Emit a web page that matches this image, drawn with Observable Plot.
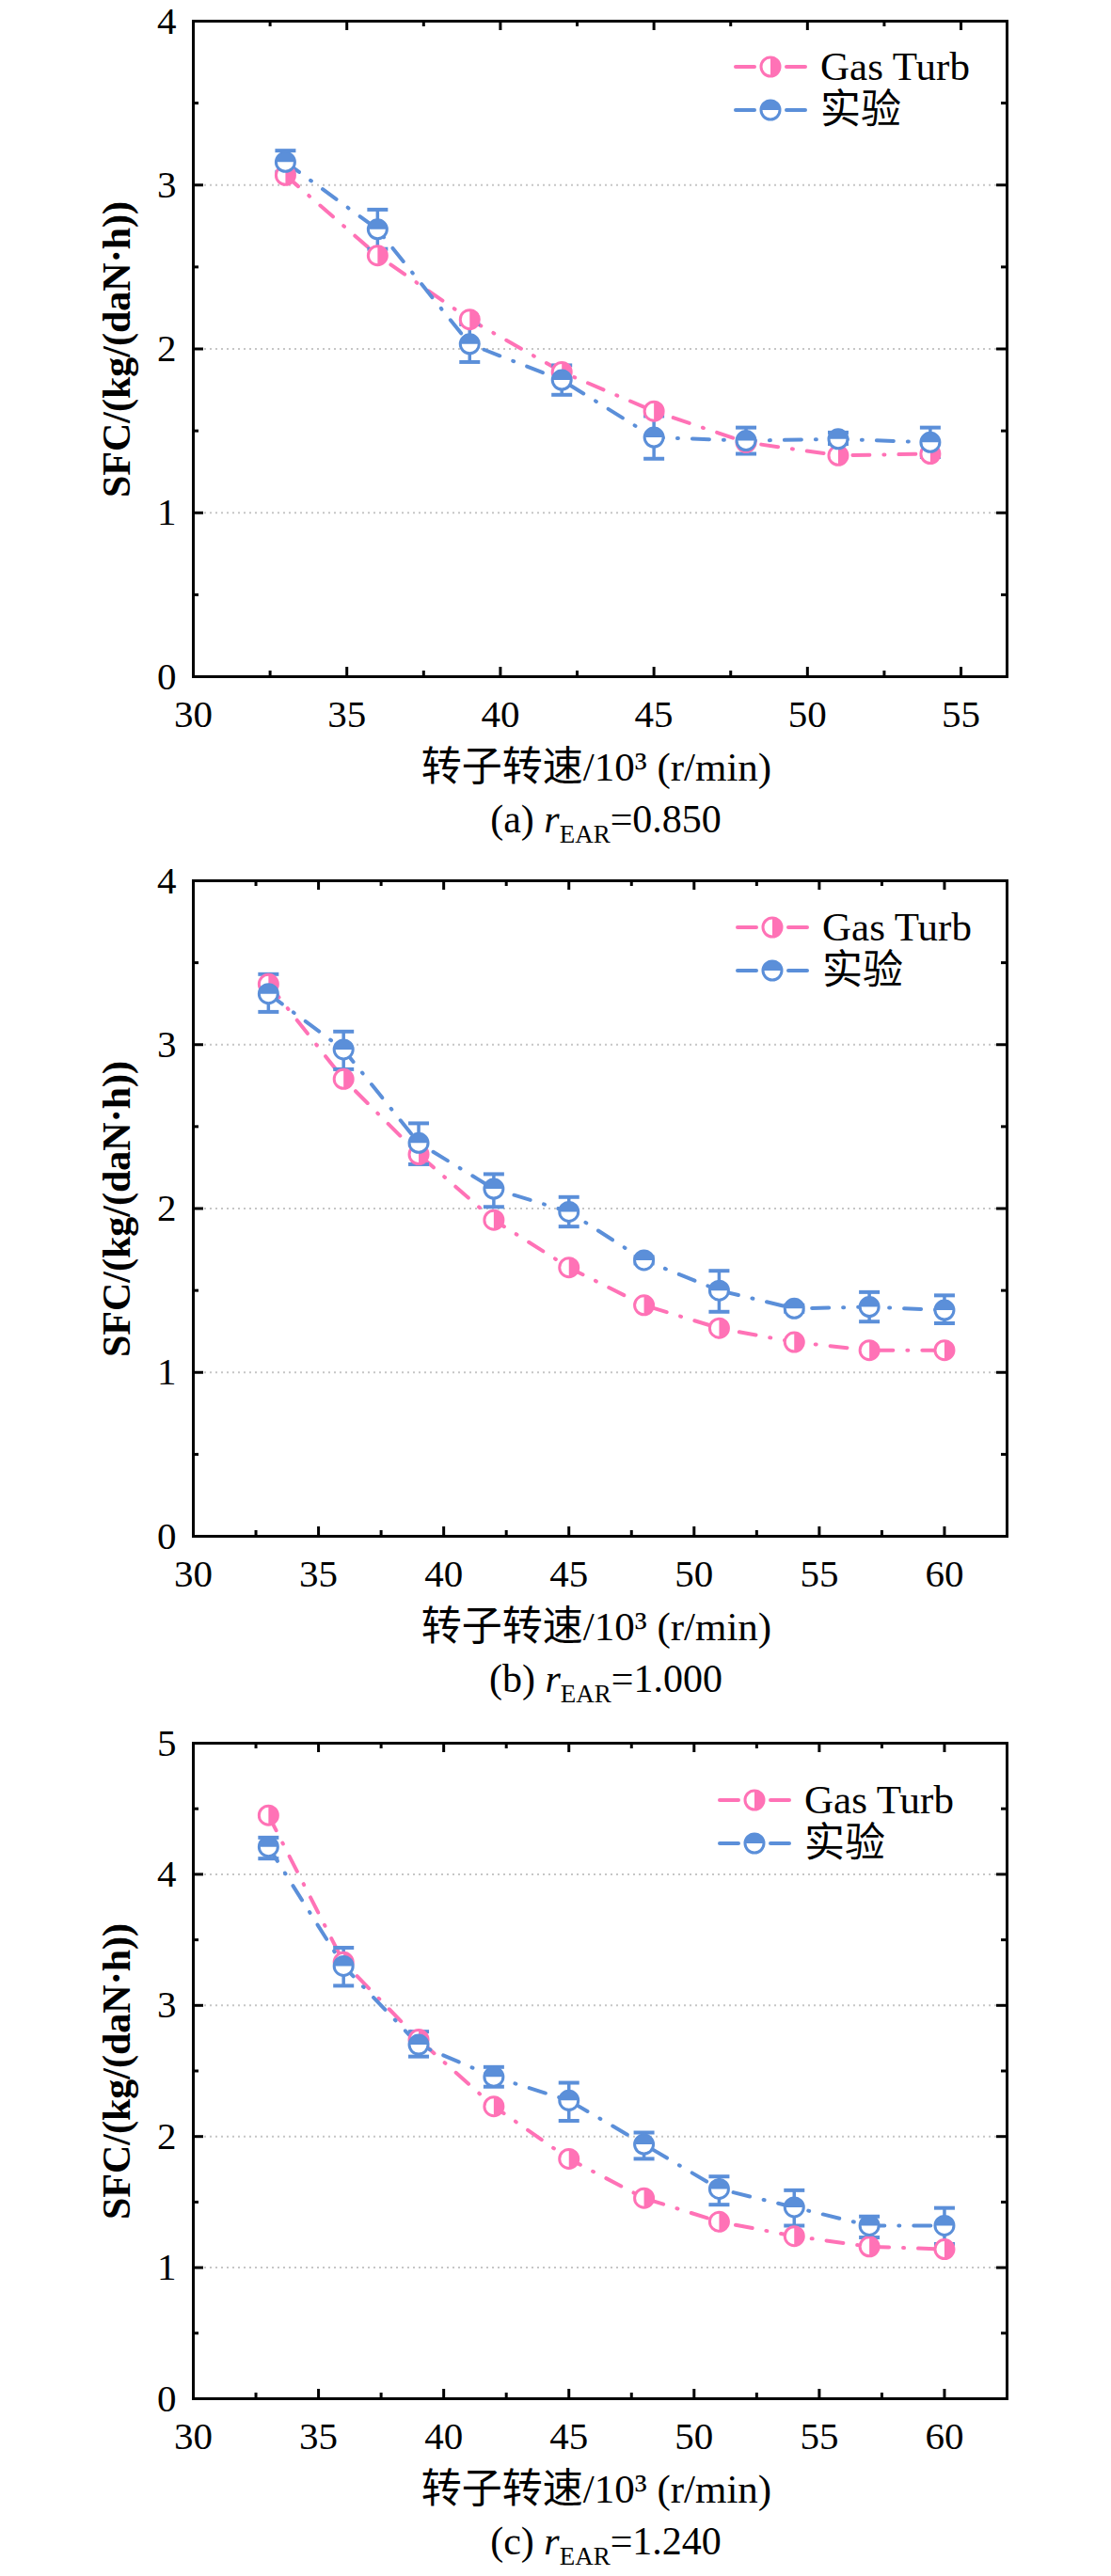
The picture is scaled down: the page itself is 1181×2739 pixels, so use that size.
<!DOCTYPE html>
<html>
<head>
<meta charset="utf-8">
<script src="https://cdn.jsdelivr.net/npm/d3@7"></script>
<script src="https://cdn.jsdelivr.net/npm/@observablehq/plot@0.6"></script>
<style>
html, body { margin: 0; padding: 0; background: #fff; }
#fig { position: relative; width: 1181px; height: 2739px; background: #fff; overflow: hidden; }
#fig > svg { position: absolute; left: 0; }
</style>
</head>
<body>
<div id="fig"></div>
<script>
// ---------------- data ----------------
const seriesNames = ["Gas Turb", "实验"];
const captionTags = ["(a)", "(b)", "(c)"];
const rEarValues = ["0.850", "1.000", "1.240"];
const yTitle = "SFC/(kg/(daN·h))";
const xTitle = "转子转速/10³ (r/min)";

const xTicksA = [30, 35, 40, 45, 50, 55];
const xTicksBC = [30, 35, 40, 45, 50, 55, 60];
const yTicksAB = [0, 1, 2, 3, 4];
const yTicksC = [0, 1, 2, 3, 4, 5];

// (a) r_EAR = 0.850
const speedA = [33, 36, 39, 42, 45, 48, 51, 54];
const gasTurbA = [3.06, 2.57, 2.18, 1.86, 1.62, 1.43, 1.35, 1.36];
const expA = [3.14, 2.73, 2.03, 1.81, 1.46, 1.44, 1.45, 1.43];
const expLowA = [3.08, 2.61, 1.92, 1.72, 1.33, 1.36, 1.42, 1.34];
const expHighA = [3.21, 2.85, 2.15, 1.90, 1.59, 1.52, 1.49, 1.52];

// (b) r_EAR = 1.000
const speedB = [33, 36, 39, 42, 45, 48, 51, 54, 57, 60];
const gasTurbB = [3.37, 2.79, 2.33, 1.93, 1.64, 1.41, 1.27, 1.185, 1.135, 1.135];
const expB = [3.31, 2.97, 2.40, 2.12, 1.98, 1.685, 1.50, 1.39, 1.40, 1.38];
const expLowB = [3.20, 2.85, 2.27, 2.01, 1.89, 1.665, 1.37, 1.37, 1.31, 1.30];
const expHighB = [3.43, 3.08, 2.52, 2.21, 2.07, 1.705, 1.62, 1.41, 1.49, 1.47];

// (c) r_EAR = 1.240
const speedC = [33, 36, 39, 42, 45, 48, 51, 54, 57, 60];
const gasTurbC = [4.45, 3.33, 2.74, 2.23, 1.83, 1.53, 1.35, 1.24, 1.16, 1.14];
const expC = [4.21, 3.30, 2.70, 2.455, 2.275, 1.94, 1.60, 1.46, 1.32, 1.32];
const expLowC = [4.12, 3.15, 2.61, 2.38, 2.12, 1.83, 1.48, 1.32, 1.23, 1.18];
const expHighC = [4.28, 3.44, 2.80, 2.53, 2.41, 2.03, 1.695, 1.59, 1.39, 1.455];

// ---------------- styles ----------------
const PINK = "#ff72b6";
const BLUE = "#5b8fd9";
const FONT = "'Liberation Serif', 'Times New Roman', 'Noto Sans CJK SC', serif";
const PLOT_W = 865, PLOT_H = 697, ML = 205, MT = 22, MB = 62;

const panels = [
  {speed: speedA, gas: gasTurbA, exp: expA, lo: expLowA, hi: expHighA, xTicks: xTicksA, yTicks: yTicksAB, xMax: 56.5, yMax: 4, top: 22, legendX: 780, legendY: 49},
  {speed: speedB, gas: gasTurbB, exp: expB, lo: expLowB, hi: expHighB, xTicks: xTicksBC, yTicks: yTicksAB, xMax: 62.5, yMax: 4, top: 936, legendX: 782, legendY: 50},
  {speed: speedC, gas: gasTurbC, exp: expC, lo: expLowC, hi: expHighC, xTicks: xTicksBC, yTicks: yTicksC, xMax: 62.5, yMax: 5, top: 1853, legendX: 763, legendY: 61}
];

// custom symbols
const rightHalf = {draw(ctx, size) { const r = Math.sqrt(size / Math.PI); ctx.moveTo(0, -r); ctx.arc(0, 0, r, -Math.PI / 2, Math.PI / 2); ctx.closePath(); }};
const topHalf = {draw(ctx, size) { const r = Math.sqrt(size / Math.PI); ctx.moveTo(r, 0); ctx.arc(0, 0, r, 0, -Math.PI, true); ctx.closePath(); }};
const capBar = {draw(ctx, size) { const r = Math.sqrt(size / Math.PI); ctx.moveTo(-r, 0); ctx.lineTo(r, 0); }};

const fig = document.getElementById("fig");

function makePanel(p) {
  const rows = p.speed.map((s, i) => ({s, gas: p.gas[i], exp: p.exp[i], lo: p.lo[i], hi: p.hi[i]}));
  const xMinor = p.xTicks.map(t => t + 2.5).filter(t => t < p.xMax);
  const yMinor = p.yTicks.slice(0, -1).map(t => t + 0.5);
  const grid = p.yTicks.filter(t => t > 0 && t < p.yMax);
  const tk = {stroke: "black", strokeWidth: 3};
  const lineOpts = {strokeWidth: 4, strokeLinecap: "round", strokeLinejoin: "round", strokeDasharray: "18,15,1,15"};
  return Plot.plot({
    width: 1181,
    height: MT + PLOT_H + MB,
    marginTop: MT, marginBottom: MB, marginLeft: ML, marginRight: 1181 - ML - PLOT_W,
    x: {domain: [30, p.xMax]},
    y: {domain: [0, p.yMax]},
    style: {fontFamily: FONT, fontSize: "41px", color: "black", background: "transparent"},
    marks: [
      Plot.ruleY(grid, {y: d => d, stroke: "#c6c6c6", strokeWidth: 2, strokeDasharray: "2,4"}),
      Plot.tickX(p.xTicks, {x: d => d, insetTop: PLOT_H - 10, ...tk}),
      Plot.tickX(p.xTicks, {x: d => d, insetBottom: PLOT_H - 10, ...tk}),
      Plot.tickX(xMinor, {x: d => d, insetTop: PLOT_H - 6, ...tk}),
      Plot.tickX(xMinor, {x: d => d, insetBottom: PLOT_H - 6, ...tk}),
      Plot.tickY(p.yTicks, {y: d => d, insetRight: PLOT_W - 11, ...tk}),
      Plot.tickY(p.yTicks, {y: d => d, insetLeft: PLOT_W - 11, ...tk}),
      Plot.tickY(yMinor, {y: d => d, insetRight: PLOT_W - 6, ...tk}),
      Plot.tickY(yMinor, {y: d => d, insetLeft: PLOT_W - 6, ...tk}),
      Plot.axisX({ticks: p.xTicks, tickSize: 0, tickPadding: 24, fontSize: 41, label: null, tickFormat: d3.format("d")}),
      Plot.axisY({ticks: p.yTicks, tickSize: 0, tickPadding: 18, fontSize: 41, label: null, tickFormat: d3.format("d")}),
      Plot.frame({stroke: "black", strokeWidth: 3}),
      Plot.line(rows, {x: "s", y: "gas", stroke: PINK, ...lineOpts}),
      Plot.line(rows, {x: "s", y: "exp", stroke: BLUE, ...lineOpts}),
      Plot.ruleX(rows, {x: "s", y1: "lo", y2: "hi", stroke: BLUE, strokeWidth: 3.5}),
      Plot.dot(rows, {x: "s", y: "lo", symbol: capBar, r: 11, fill: "none", stroke: BLUE, strokeWidth: 4}),
      Plot.dot(rows, {x: "s", y: "hi", symbol: capBar, r: 11, fill: "none", stroke: BLUE, strokeWidth: 4}),
      Plot.dot(rows, {x: "s", y: "gas", r: 10, fill: "white", stroke: PINK, strokeWidth: 3}),
      Plot.dot(rows, {x: "s", y: "gas", r: 10, symbol: rightHalf, fill: PINK, stroke: "none"}),
      Plot.dot(rows, {x: "s", y: "exp", r: 10, fill: "white", stroke: BLUE, strokeWidth: 3}),
      Plot.dot(rows, {x: "s", y: "exp", r: 10, symbol: topHalf, fill: BLUE, stroke: "none"})
    ]
  });
}

panels.forEach(p => {
  const svg = makePanel(p);
  svg.style.position = "absolute";
  svg.style.left = "0px";
  svg.style.top = (p.top - MT) + "px";
  fig.appendChild(svg);
});

// ---------------- overlay: titles, captions, legends ----------------
const overlay = d3.select(fig).append("svg")
  .attr("width", 1181).attr("height", 2739)
  .style("position", "absolute").style("left", "0px").style("top", "0px")
  .style("pointer-events", "none")
  .attr("font-family", FONT);

panels.forEach((p, i) => {
  const axisY = p.top + PLOT_H;
  // y title
  overlay.append("text")
    .attr("transform", `translate(138,${p.top + PLOT_H / 2 + 1}) rotate(-90)`)
    .attr("text-anchor", "middle")
    .attr("font-size", 42).attr("font-weight", "bold")
    .text(yTitle);
  // x title
  overlay.append("text")
    .attr("x", 634).attr("y", axisY + 111)
    .attr("text-anchor", "middle").attr("font-size", 43)
    .text(xTitle);
  // caption
  const cap = overlay.append("text")
    .attr("x", 644).attr("y", axisY + 166)
    .attr("text-anchor", "middle").attr("font-size", 42);
  cap.append("tspan").text(captionTags[i] + " ");
  cap.append("tspan").attr("font-style", "italic").text("r");
  cap.append("tspan").attr("font-size", 27).attr("dy", 11).text("EAR");
  cap.append("tspan").attr("dy", -11).text("=" + rEarValues[i]);
  // legend
  const colors = [PINK, BLUE];
  const halves = ["right", "top"];
  colors.forEach((c, j) => {
    const cy = p.top + p.legendY + j * 46;
    const x0 = p.legendX;
    const g = overlay.append("g");
    g.append("line").attr("x1", x0 + 2).attr("x2", x0 + 22).attr("y1", cy).attr("y2", cy)
      .attr("stroke", c).attr("stroke-width", 4).attr("stroke-linecap", "round");
    g.append("line").attr("x1", x0 + 56).attr("x2", x0 + 76).attr("y1", cy).attr("y2", cy)
      .attr("stroke", c).attr("stroke-width", 4).attr("stroke-linecap", "round");
    const cx = x0 + 39, r = 10;
    g.append("circle").attr("cx", cx).attr("cy", cy).attr("r", r)
      .attr("fill", "white").attr("stroke", c).attr("stroke-width", 3);
    const path = d3.path();
    if (halves[j] === "right") { path.moveTo(cx, cy - r); path.arc(cx, cy, r, -Math.PI / 2, Math.PI / 2); }
    else { path.moveTo(cx + r, cy); path.arc(cx, cy, r, 0, -Math.PI, true); }
    path.closePath();
    g.append("path").attr("d", path.toString()).attr("fill", c);
    g.append("text").attr("x", x0 + 92).attr("y", cy + 14)
      .attr("font-size", 43).text(seriesNames[j]);
  });
});
</script>
</body>
</html>
